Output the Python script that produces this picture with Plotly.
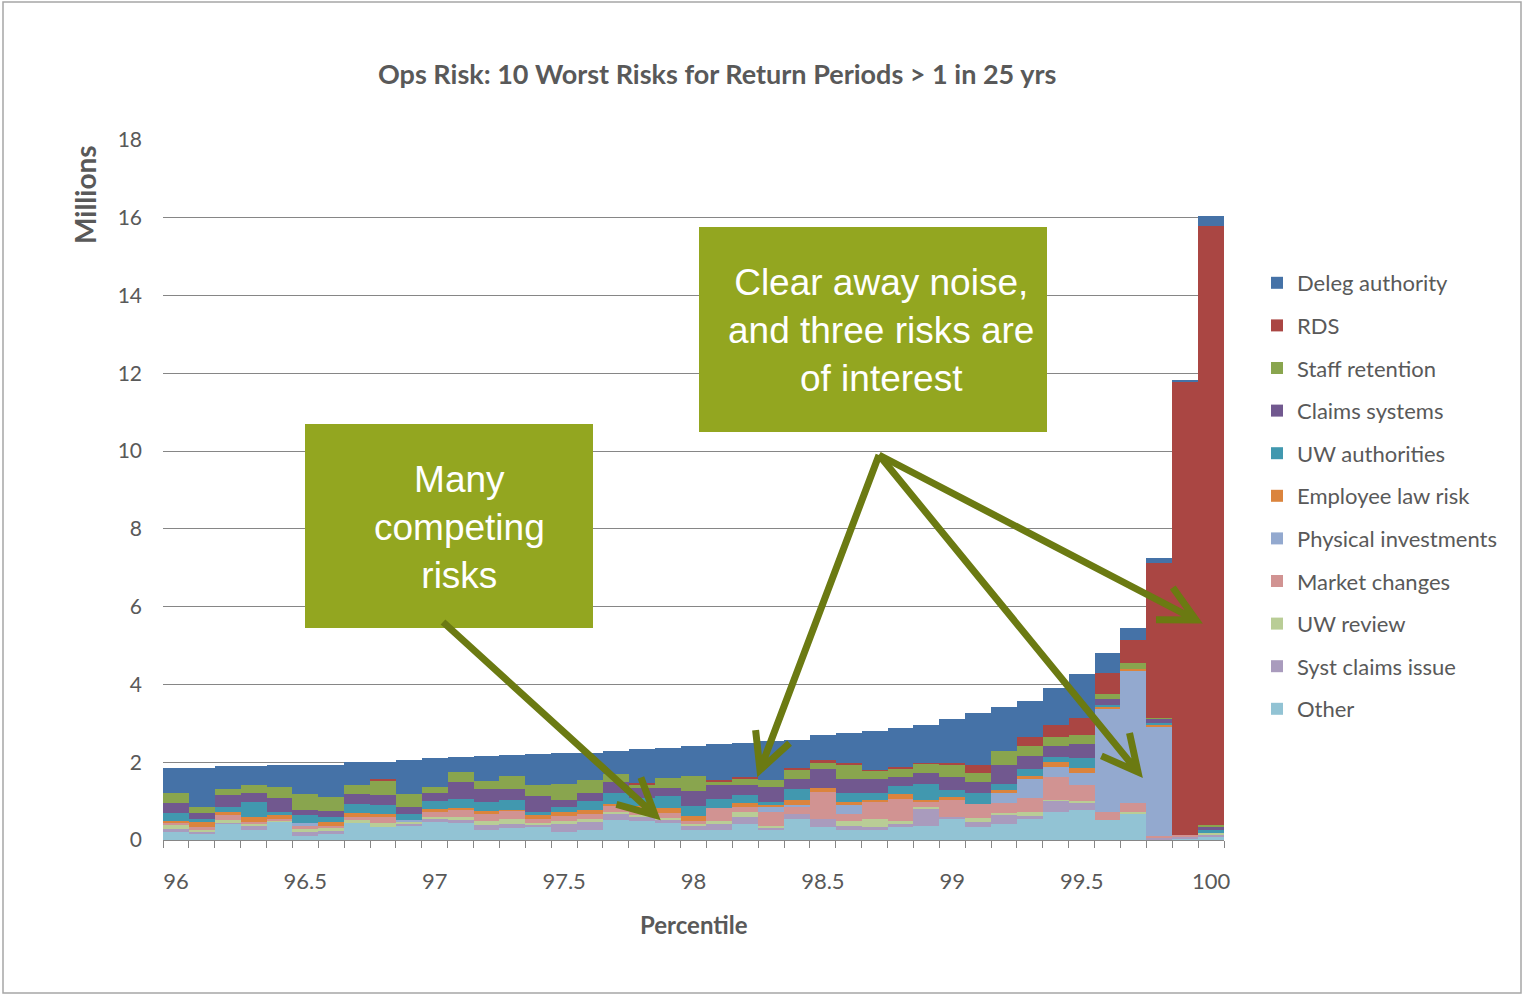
import math
import plotly.graph_objects as go

# Percentile buckets (one bar per 0.1 percentile)
percentiles = [96.0, 96.1, 96.2, 96.3, 96.4, 96.5, 96.6, 96.7, 96.8, 96.9,
               97.0, 97.1, 97.2, 97.3, 97.4, 97.5, 97.6, 97.7, 97.8, 97.9,
               98.0, 98.1, 98.2, 98.3, 98.4, 98.5, 98.6, 98.7, 98.8, 98.9,
               99.0, 99.1, 99.2, 99.3, 99.4, 99.5, 99.6, 99.7, 99.8, 99.9,
               100.0]

# Loss contributions (millions), listed bottom of stack first
other = [0.20, 0.17, 0.43, 0.26, 0.47, 0.11, 0.15, 0.43, 0.34, 0.37,
         0.46, 0.45, 0.26, 0.30, 0.33, 0.21, 0.26, 0.51, 0.50, 0.45,
         0.26, 0.26, 0.41, 0.26, 0.53, 0.33, 0.26, 0.26, 0.34, 0.36,
         0.53, 0.34, 0.41, 0.53, 0.73, 0.77, 0.51, 0.67, 0.00, 0.04,
         0.09]
syst_claims = [0.09, 0.03, 0.02, 0.11, 0.00, 0.10, 0.09, 0.00, 0.00, 0.06,
               0.09, 0.07, 0.13, 0.11, 0.06, 0.21, 0.21, 0.15, 0.10, 0.07,
               0.09, 0.15, 0.19, 0.07, 0.15, 0.21, 0.10, 0.07, 0.07, 0.45,
               0.07, 0.13, 0.23, 0.09, 0.28, 0.19, 0.00, 0.00, 0.06, 0.04,
               0.05]
uw_review = [0.12, 0.06, 0.06, 0.06, 0.04, 0.07, 0.07, 0.09, 0.10, 0.04,
             0.05, 0.07, 0.09, 0.12, 0.04, 0.06, 0.06, 0.06, 0.05, 0.04,
             0.07, 0.08, 0.13, 0.03, 0.00, 0.00, 0.14, 0.21, 0.09, 0.04,
             0.00, 0.09, 0.06, 0.11, 0.03, 0.05, 0.00, 0.06, 0.00, 0.00,
             0.05]
market_changes = [0.03, 0.08, 0.13, 0.04, 0.04, 0.09, 0.06, 0.06, 0.15, 0.00,
                  0.11, 0.19, 0.20, 0.22, 0.10, 0.13, 0.15, 0.17, 0.20, 0.13,
                  0.06, 0.33, 0.13, 0.36, 0.19, 0.69, 0.17, 0.45, 0.55, 0.15,
                  0.45, 0.37, 0.24, 0.36, 0.57, 0.40, 0.21, 0.23, 0.04, 0.05,
                  0.00]
physical_inv = [0.00, 0.00, 0.00, 0.00, 0.00, 0.08, 0.00, 0.00, 0.00, 0.04,
                0.00, 0.00, 0.00, 0.00, 0.00, 0.00, 0.00, 0.00, 0.00, 0.00,
                0.00, 0.00, 0.00, 0.13, 0.04, 0.00, 0.23, 0.00, 0.00, 0.00,
                0.00, 0.00, 0.27, 0.47, 0.27, 0.32, 2.66, 3.39, 2.81, 0.00,
                0.00]
employee_law = [0.06, 0.12, 0.07, 0.13, 0.09, 0.00, 0.09, 0.11, 0.09, 0.00,
                0.10, 0.04, 0.06, 0.02, 0.11, 0.11, 0.09, 0.04, 0.03, 0.13,
                0.13, 0.00, 0.09, 0.06, 0.13, 0.11, 0.09, 0.04, 0.14, 0.02,
                0.05, 0.00, 0.07, 0.09, 0.13, 0.11, 0.03, 0.06, 0.07, 0.00,
                0.00]
uw_authorities = [0.20, 0.09, 0.13, 0.37, 0.09, 0.20, 0.13, 0.23, 0.23, 0.17,
                  0.19, 0.23, 0.23, 0.26, 0.09, 0.13, 0.24, 0.27, 0.20, 0.30,
                  0.27, 0.23, 0.21, 0.07, 0.26, 0.00, 0.23, 0.19, 0.19, 0.43,
                  0.19, 0.27, 0.15, 0.17, 0.13, 0.26, 0.06, 0.00, 0.03, 0.00,
                  0.07]
claims_systems = [0.24, 0.15, 0.32, 0.25, 0.36, 0.13, 0.15, 0.26, 0.26, 0.17,
                  0.20, 0.44, 0.34, 0.27, 0.40, 0.19, 0.19, 0.28, 0.25, 0.21,
                  0.37, 0.37, 0.26, 0.39, 0.26, 0.49, 0.34, 0.34, 0.24, 0.27,
                  0.33, 0.30, 0.49, 0.34, 0.27, 0.37, 0.15, 0.00, 0.11, 0.00,
                  0.09]
staff_retention = [0.27, 0.15, 0.15, 0.20, 0.27, 0.40, 0.36, 0.24, 0.37, 0.34,
                   0.17, 0.25, 0.20, 0.34, 0.28, 0.41, 0.34, 0.23, 0.10, 0.27,
                   0.40, 0.09, 0.15, 0.17, 0.26, 0.15, 0.37, 0.22, 0.23, 0.24,
                   0.32, 0.23, 0.36, 0.26, 0.24, 0.23, 0.13, 0.13, 0.03, 0.00,
                   0.04]
rds = [0.00, 0.00, 0.00, 0.00, 0.00, 0.00, 0.00, 0.00, 0.04, 0.00,
       0.00, 0.00, 0.00, 0.00, 0.00, 0.00, 0.00, 0.00, 0.04, 0.00,
       0.00, 0.03, 0.04, 0.00, 0.04, 0.09, 0.04, 0.03, 0.03, 0.03,
       0.04, 0.20, 0.00, 0.24, 0.32, 0.43, 0.54, 0.60, 3.98, 11.65,
       15.40]
deleg_authority = [0.65, 0.99, 0.59, 0.48, 0.57, 0.75, 0.83, 0.59, 0.43, 0.87,
                   0.73, 0.40, 0.65, 0.55, 0.80, 0.78, 0.71, 0.59, 0.86, 0.77,
                   0.77, 0.93, 0.89, 1.01, 0.71, 0.63, 0.77, 1.00, 0.99, 0.97,
                   1.12, 1.33, 1.13, 0.91, 0.93, 1.13, 0.53, 0.32, 0.13, 0.05,
                   0.26]

series_names = ["Other", "Syst claims issue", "UW review", "Market changes",
                "Physical investments", "Employee law risk", "UW authorities",
                "Claims systems", "Staff retention", "RDS", "Deleg authority"]
series_values = [other, syst_claims, uw_review, market_changes, physical_inv,
                 employee_law, uw_authorities, claims_systems, staff_retention,
                 rds, deleg_authority]
series_colors = ["#92C3D4", "#A99BBD", "#B9CD96", "#D19392", "#93A9CF",
                 "#DB843D", "#4198AF", "#71588F", "#89A54E", "#AA4643",
                 "#4572A7"]

x_ticks = [96, 96.5, 97, 97.5, 98, 98.5, 99, 99.5, 100]
x_tick_text = ["96", "96.5", "97", "97.5", "98", "98.5", "99", "99.5", "100"]
y_ticks = [0, 2, 4, 6, 8, 10, 12, 14, 16, 18]

W, H = 1523, 995
ML, MR, MT, MB = 163, 299, 140, 155
PW, PH = W - ML - MR, H - MT - MB

FONT = "Lato"
TXT = "#595959"
BOX = "#93A620"
ARROW = "#6B7A12"

fig = go.Figure()
n = len(series_names)
for i, (name, vals, col) in enumerate(zip(series_names, series_values, series_colors)):
    # top of the stack is listed first in the legend
    fig.add_trace(go.Bar(x=percentiles, y=vals, name=name, legendgroup=name,
                         legendrank=100 * (n - i),
                         marker=dict(color=col, line=dict(width=0)),
                         width=0.1))


def px2paper(px, py):
    return (px - ML) / PW, (MT + PH - py) / PH


shapes = []
annotations = []

# Callout boxes: (left, top, right, bottom) px, text centre x, label
callouts = [
    ((305, 424, 593, 628), 459, "Many<br>competing<br>risks"),
    ((699, 227, 1047, 432), 881, "Clear away noise,<br>and three risks are<br>of interest"),
]
for (x0, y0, x1, y1), tcx, text in callouts:
    a0 = px2paper(x0, y1)
    a1 = px2paper(x1, y0)
    shapes.append(dict(type="rect", xref="paper", yref="paper",
                       x0=a0[0], y0=a0[1], x1=a1[0], y1=a1[1],
                       fillcolor=BOX, line=dict(width=0), layer="above"))
    cx, cy = px2paper(tcx, (y0 + y1) / 2 + 1)
    annotations.append(dict(xref="paper", yref="paper", x=cx, y=cy,
                            text=text, showarrow=False,
                            font=dict(family="Liberation Sans, Arial", size=37,
                                      color="white"),
                            align="center", xanchor="center", yanchor="middle"))

# Pointer arrows (tail -> tip, in page pixels) with chevron heads
arrows = [((443, 622), (655, 815)),
          ((879, 455), (760, 770)),
          ((879, 455), (1138, 772)),
          ((879, 455), (1196, 620))]
ARM, ANG = 40, math.radians(27)
for (tx, ty), (hx, hy) in arrows:
    dx, dy = tx - hx, ty - hy
    L = math.hypot(dx, dy)
    ux, uy = dx / L, dy / L
    arms = []
    for s in (1, -1):
        c, sn = math.cos(s * ANG), math.sin(s * ANG)
        arms.append((hx + ARM * (ux * c - uy * sn), hy + ARM * (ux * sn + uy * c)))
    pts = [px2paper(*p) for p in [(tx, ty), (hx, hy), arms[0], (hx, hy), arms[1]]]
    path = "M {0[0]:.5f},{0[1]:.5f} L {1[0]:.5f},{1[1]:.5f} M {2[0]:.5f},{2[1]:.5f} L {3[0]:.5f},{3[1]:.5f} L {4[0]:.5f},{4[1]:.5f}".format(*pts)
    shapes.append(dict(type="path", xref="paper", yref="paper", path=path,
                       line=dict(color=ARROW, width=7), layer="above"))

# Outer frame of the chart
f0 = px2paper(3, 993)
f1 = px2paper(1521, 2)
shapes.append(dict(type="rect", xref="paper", yref="paper",
                   x0=f0[0], y0=f0[1], x1=f1[0], y1=f1[1],
                   line=dict(color="#A6A6A6", width=1.5), layer="below"))

# Axis captions and title
mx, my = px2paper(85, 195)
annotations.append(dict(xref="paper", yref="paper", x=mx, y=my, text="<b>Millions</b>",
                        textangle=-90, showarrow=False,
                        font=dict(family=FONT, size=28, color=TXT),
                        xanchor="center", yanchor="middle"))
pxx, pxy = px2paper(694, 924)
annotations.append(dict(xref="paper", yref="paper", x=pxx, y=pxy, text="<b>Percentile</b>",
                        showarrow=False, font=dict(family=FONT, size=24, color=TXT),
                        xanchor="center", yanchor="middle"))
tx_, ty_ = px2paper(717, 73)
annotations.append(dict(xref="paper", yref="paper", x=tx_, y=ty_,
                        text="<b>Ops Risk: 10 Worst Risks for Return Periods > 1 in 25 yrs</b>",
                        showarrow=False, font=dict(family=FONT, size=27, color=TXT),
                        xanchor="center", yanchor="middle"))

lx, ly = px2paper(1257, 262)
fig.update_layout(
    width=W, height=H,
    margin=dict(l=ML, r=MR, t=MT, b=MB, pad=0),
    paper_bgcolor="white", plot_bgcolor="white",
    barmode="stack", bargap=0,
    font=dict(family=FONT, color=TXT, size=20),
    showlegend=True,
    legend=dict(x=lx, y=ly, xanchor="left", yanchor="top",
                traceorder="grouped", tracegroupgap=11,
                font=dict(family=FONT, size=22, color=TXT),
                bgcolor="rgba(0,0,0,0)", itemwidth=30),
    shapes=shapes,
    annotations=annotations,
    xaxis=dict(range=[95.95, 100.05], tickmode="array", tickvals=x_ticks,
               ticktext=x_tick_text, ticks="", showgrid=False, zeroline=False,
               showline=True, linecolor="#868686", linewidth=1,
               tickfont=dict(family=FONT, size=22, color=TXT),
               ticklabelstandoff=22,
               minor=dict(ticks="outside", tick0=95.95, dtick=0.1, ticklen=7,
                          tickcolor="#868686", tickwidth=1, showgrid=False)),
    yaxis=dict(range=[0, 18], tickmode="array", tickvals=y_ticks,
               showgrid=True, gridcolor="#868686", gridwidth=1,
               zeroline=False, showline=False, ticks="",
               tickfont=dict(family=FONT, size=21, color=TXT),
               ticklabelstandoff=20),
)

fig.write_html("out.html")
